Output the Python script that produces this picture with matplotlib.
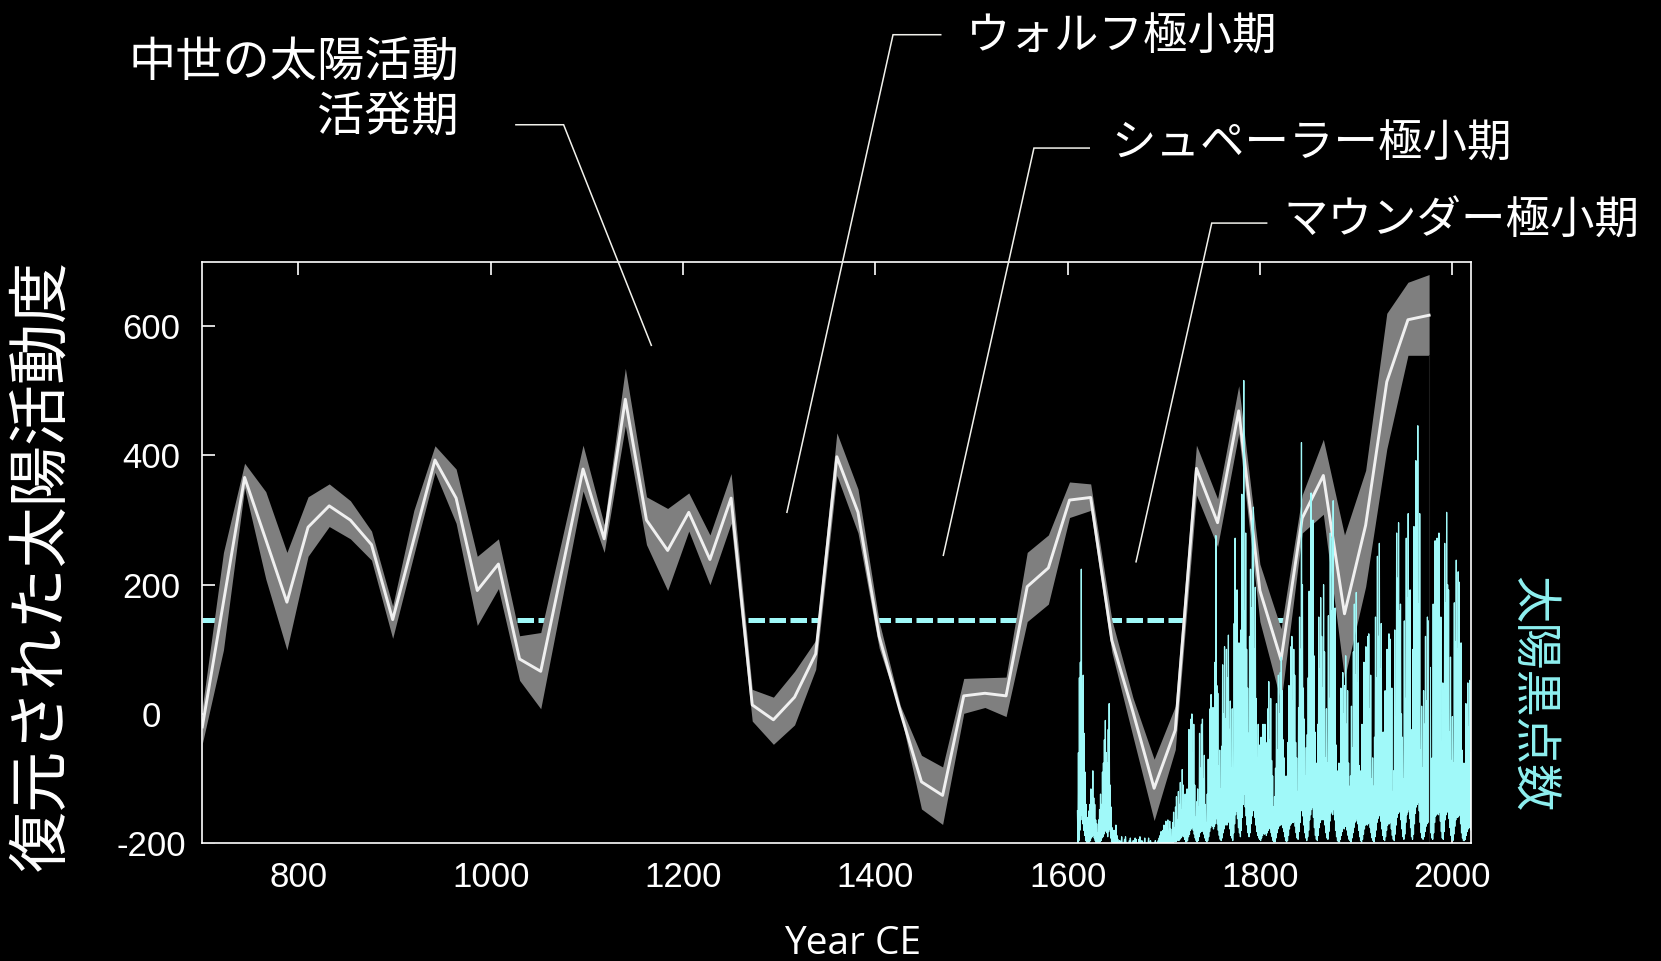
import numpy as np
import matplotlib
matplotlib.use("Agg")
import matplotlib.pyplot as plt

plt.rcParams['font.family'] = ['Noto Sans CJK JP', 'DejaVu Sans']

W, H = 1661, 961

# ---- reconstructed solar activity, 22-year resolution ----
recon_years = list(range(700, 1977, 22))
recon_mean = [-20, 173, 366, 270, 173, 289, 322, 300, 262, 146,
              270, 393, 334, 191, 232, 85, 66, 222, 379, 271,
              487, 300, 253, 312, 239, 334, 14, -9, 26, 93,
              398, 312, 120, 4, -105, -126, 28, 32, 28, 197,
              226, 331, 335, 114, 3, -115, -25, 380, 296, 469,
              191, 84, 303, 369, 155, 292, 514, 610, 617]
recon_upper = [10, 250, 388, 344, 250, 336, 356, 330, 283, 167,
               315, 415, 379, 244, 271, 121, 126, 270, 416, 293,
               535, 336, 318, 342, 277, 372, 38, 26, 66, 114,
               435, 348, 143, 13, -64, -82, 55, 56, 57, 250,
               277, 359, 356, 146, 25, -70, 12, 416, 333, 508,
               232, 132, 339, 425, 277, 377, 620, 668, 680]
recon_lower = [-46, 99, 350, 209, 99, 244, 290, 271, 238, 117,
               246, 374, 295, 137, 194, 52, 8, 176, 345, 250,
               446, 262, 191, 283, 200, 295, -11, -47, -17, 69,
               369, 280, 102, 2, -147, -171, 1, 10, -4, 143,
               170, 304, 315, 96, -35, -165, -55, 339, 259, 434,
               143, 19, 280, 309, 55, 197, 410, 555, 555]

# long-term mean level (dashed reference line)
mean_level = 145

# ---- sunspot numbers: yearly high / low, 1610-2020 ----
sunspot_years = list(range(1610, 2021))
sunspot_high = [
    25, 70, 128, 140, 212, 118, 130, 85, 55, 30,        # 1610s
    20, 12, 25, 30, 42, 36, 56, 35, 30, 18,             # 1620s
    15, 8, 18, 26, 38, 30, 55, 62, 80, 95,              # 1630s
    70, 62, 88, 108, 45, 28, 12, 6, 10, 9,              # 1640s
    14, 6, 3, 0, 2, 0, 5, 0, 0, 3,                      # 1650s
    5, 0, 0, 0, 2, 4, 0, 0, 2, 0,                       # 1660s
    4, 3, 0, 0, 3, 5, 0, 2, 0, 0,                       # 1670s
    4, 0, 0, 0, 4, 0, 2, 0, 0, 0,                       # 1680s
    0, 2, 0, 0, 2, 4, 6, 9, 4, 10,                      # 1690s
    14, 6, 17, 10, 18, 8, 17, 11, 4, 16,                # 1700s
    24, 12, 28, 36, 18, 40, 30, 47, 26, 57,             # 1710s
    45, 22, 38, 12, 42, 30, 88, 55, 96, 100,            # 1720s
    70, 92, 45, 20, 32, 42, 28, 85, 58, 92,             # 1730s
    96, 50, 68, 30, 16, 38, 65, 40, 104, 115,           # 1740s
    80, 105, 100, 140, 238, 122, 116, 60, 72, 42,       # 1750s
    75, 138, 100, 152, 96, 150, 128, 161, 88, 110,      # 1760s
    58, 104, 52, 170, 236, 150, 196, 110, 155, 90,      # 1770s
    165, 270, 215, 358, 180, 240, 150, 120, 85, 160,    # 1780s
    212, 182, 250, 260, 150, 198, 112, 66, 92, 76,      # 1790s
    52, 82, 74, 92, 60, 92, 78, 56, 104, 125,           # 1800s
    80, 112, 64, 52, 28, 36, 58, 108, 72, 130,          # 1810s
    100, 132, 144, 118, 80, 66, 30, 52, 48, 78,         # 1820s
    122, 100, 152, 160, 110, 150, 130, 78, 66, 40,      # 1830s
    105, 175, 150, 310, 200, 120, 96, 52, 74, 84,       # 1840s
    128, 195, 160, 271, 222, 250, 145, 86, 48, 62,      # 1850s
    92, 175, 135, 190, 160, 120, 200, 148, 66, 104,     # 1860s
    62, 176, 112, 240, 180, 236, 265, 124, 182, 76,     # 1870s
    56, 30, 62, 42, 120, 88, 132, 100, 122, 145,        # 1880s
    92, 118, 62, 44, 52, 106, 74, 148, 185, 130,        # 1890s
    194, 124, 155, 60, 56, 42, 92, 64, 140, 110,        # 1900s
    152, 115, 160, 162, 104, 130, 50, 66, 44, 82,       # 1910s
    175, 128, 222, 160, 232, 135, 170, 62, 86, 48,      # 1920s
    118, 88, 150, 110, 162, 158, 92, 120, 40, 56,       # 1930s
    165, 98, 240, 205, 248, 180, 185, 100, 82, 50,      # 1940s
    172, 112, 236, 190, 255, 144, 196, 68, 88, 150,     # 1950s
    245, 195, 296, 230, 323, 185, 255, 72, 106, 58,     # 1960s
    118, 92, 160, 110, 175, 172, 104, 136, 50, 66,      # 1970s
    185, 118, 234, 170, 236, 222, 240, 112, 175, 68,    # 1980s
    124, 66, 232, 186, 256, 200, 196, 86, 144, 64,      # 1990s
    98, 62, 186, 156, 219, 150, 210, 202, 104, 155,     # 2000s
    72, 40, 62, 52, 108, 82, 124, 90, 126, 70,          # 2010s
    128,                                                # 2020
]
sunspot_low = [
    0, 2, 10, 18, 22, 15, 10, 6, 2, 0,
    0, 0, 1, 2, 4, 5, 6, 4, 2, 0,
    0, 0, 0, 1, 2, 4, 5, 7, 9, 10,
    8, 5, 9, 11, 4, 1, 0, 0, 0, 0,
    0, 0, 0, 0, 0, 0, 0, 0, 0, 0,
    0, 0, 0, 0, 0, 0, 0, 0, 0, 0,
    0, 0, 0, 0, 0, 0, 0, 0, 0, 0,
    0, 0, 0, 0, 0, 0, 0, 0, 0, 0,
    0, 0, 0, 0, 0, 0, 0, 0, 0, 0,
    0, 0, 0, 0, 0, 0, 0, 0, 0, 0,
    1, 2, 1, 2, 3, 2, 3, 4, 5, 6,
    5, 3, 1, 1, 2, 5, 7, 10, 11, 12,
    10, 7, 4, 2, 1, 2, 5, 8, 10, 9,
    10, 7, 4, 2, 1, 2, 5, 9, 12, 14,
    13, 11, 13, 15, 19, 15, 10, 6, 3, 2,
    4, 8, 11, 14, 15, 14, 16, 17, 11, 6,
    4, 2, 8, 15, 22, 25, 19, 12, 8, 5,
    10, 20, 30, 38, 28, 21, 14, 8, 5, 8,
    15, 21, 25, 28, 20, 14, 9, 6, 4, 3,
    2, 4, 6, 8, 7, 8, 6, 8, 10, 12,
    11, 8, 5, 2, 1, 1, 4, 8, 11, 13,
    14, 14, 15, 12, 9, 5, 2, 1, 2, 6,
    11, 14, 15, 16, 16, 17, 13, 8, 4, 3,
    9, 16, 25, 31, 21, 14, 8, 4, 2, 5,
    10, 18, 22, 26, 28, 20, 12, 6, 3, 2,
    6, 12, 16, 18, 19, 18, 20, 14, 8, 4,
    3, 9, 17, 23, 25, 22, 26, 18, 10, 5,
    2, 1, 1, 3, 6, 9, 12, 11, 13, 14,
    10, 6, 3, 2, 1, 4, 8, 12, 16, 17,
    19, 15, 10, 5, 2, 1, 3, 7, 11, 14,
    15, 14, 15, 16, 12, 8, 4, 2, 1, 5,
    10, 16, 19, 21, 23, 17, 11, 6, 3, 2,
    5, 10, 14, 15, 15, 16, 11, 6, 3, 2,
    7, 14, 20, 23, 24, 25, 18, 11, 5, 3,
    7, 16, 22, 24, 26, 19, 12, 5, 3, 7,
    15, 23, 28, 30, 32, 25, 16, 8, 4, 3,
    5, 9, 13, 15, 16, 17, 12, 8, 4, 3,
    8, 16, 21, 22, 23, 22, 24, 17, 9, 4,
    3, 9, 18, 22, 24, 25, 19, 12, 6, 3,
    2, 7, 13, 18, 20, 20, 21, 22, 15, 8,
    4, 2, 2, 3, 6, 9, 11, 12, 12, 10,
    10,
]
SUNSPOT_SCALE = 2.0   # sunspot number -> plot units above the baseline

x_ticks = [800, 1000, 1200, 1400, 1600, 1800, 2000]
y_ticks = [-200, 0, 200, 400, 600]
X_MIN, X_MAX = 700, 2020
Y_MIN, Y_MAX = -200, 700

GRAY = '#7f7f7f'
WHITE = '#f0f0f0'
CYAN = '#a0f9f9'
CYAN_TEXT = '#8ef0f0'
LEADER = '#f2f2ec'

fig = plt.figure(figsize=(W / 100, H / 100), dpi=100, facecolor='black')
ax = fig.add_axes([202.3 / W, 1 - 843.2 / H, 1269.1 / W, 581.6 / H], facecolor='black')
ax.set_xlim(X_MIN, X_MAX)
ax.set_ylim(Y_MIN, Y_MAX)

# dashed mean level, hidden below the curve by a black underlay
ax.plot([recon_years[0], recon_years[-1]], [mean_level, mean_level], color=CYAN,
        lw=3.6, dashes=(3.3, 0.9), zorder=1, solid_capstyle='butt')
ax.fill_between(recon_years, recon_mean, Y_MIN, color='black', lw=0, zorder=2)

# uncertainty band and reconstruction
ax.fill_between(recon_years, recon_lower, recon_upper, color=GRAY, lw=0, zorder=3)
ax.plot(recon_years, recon_mean, color=WHITE, lw=2.1, zorder=4)

# sunspot record, drawn as a yearly high/low zigzag above the baseline
ss_x, ss_y = [], []
for yr, hi, lo in zip(sunspot_years, sunspot_high, sunspot_low):
    ss_x += [yr + 0.25, yr + 0.75]
    ss_y += [Y_MIN + SUNSPOT_SCALE * hi, Y_MIN + SUNSPOT_SCALE * lo]
ax.plot(ss_x, ss_y, color=CYAN, lw=0.9, zorder=5)

# edge of the reconstruction at its last node
ax.plot([recon_years[-1]] * 2, [Y_MIN, recon_lower[-1]], color='#1c1c1c', lw=0.8, zorder=6)

# axes styling
for side in ['left', 'right', 'top', 'bottom']:
    ax.spines[side].set_color('white')
    ax.spines[side].set_linewidth(1.2)
    ax.spines[side].set_zorder(7)
ax.set_xticks(x_ticks)
ax.set_yticks(y_ticks)
ax.set_xticklabels([str(v) for v in x_ticks])
ax.set_yticklabels([str(v) for v in y_ticks])
ax.tick_params(axis='both', direction='in', length=9.5, width=1.2, colors='white',
               labelsize=25, top=True, right=False)
ax.tick_params(axis='x', pad=13)
ax.tick_params(axis='y', pad=37)
for lab in ax.get_yticklabels():
    lab.set_horizontalalignment('center')
for lab in ax.get_xticklabels() + ax.get_yticklabels():
    lab.set_fontfamily('Liberation Sans')


def fpos(x, y):
    return x / W, 1 - y / H


def to_data(px, py):
    return (X_MIN + (px - 202.3) / 0.9614, (714.0 - py) * 1.548)


# period labels with leader lines
leaders = [
    [(515.9, 125.0), (563.6, 125.0), (651.3, 345.5)],
    [(940.7, 35.0), (893.0, 35.0), (786.9, 512.4)],
    [(1089.2, 148.3), (1033.9, 148.3), (943.3, 555.4)],
    [(1266.6, 223.3), (1211.7, 223.3), (1136.0, 561.9)],
]
for pts in leaders:
    dpts = [to_data(*p) for p in pts]
    ax.plot([p[0] for p in dpts], [p[1] for p in dpts], color=LEADER, lw=1.1,
            clip_on=False, zorder=8, solid_joinstyle='miter')

fig.text(*fpos(459, 77), '中世の太陽活動', color='white', fontsize=34,
         ha='right', va='baseline')
fig.text(*fpos(459, 132), '活発期', color='white', fontsize=34,
         ha='right', va='baseline')
fig.text(*fpos(966, 50), 'ウォルフ極小期', color='white', fontsize=32,
         ha='left', va='baseline')
fig.text(*fpos(1111, 157), 'シュペーラー極小期', color='white', fontsize=32,
         ha='left', va='baseline')
fig.text(*fpos(1283, 234), 'マウンダー極小期', color='white', fontsize=32,
         ha='left', va='baseline')

# axis titles
fig.text(*fpos(42.5, 565), '復元された太陽活動度', color='white', fontsize=44,
         rotation=90, ha='center', va='center')
fig.text(*fpos(1531.7, 694.4), '太陽黒点数', color=CYAN_TEXT, fontsize=34,
         rotation=-90, ha='center', va='center')
fig.text(*fpos(853, 954), 'Year CE', color='white', fontsize=28,
         family='Open Sans', ha='center', va='baseline')

fig.savefig('out.png', dpi=100, facecolor='black')
